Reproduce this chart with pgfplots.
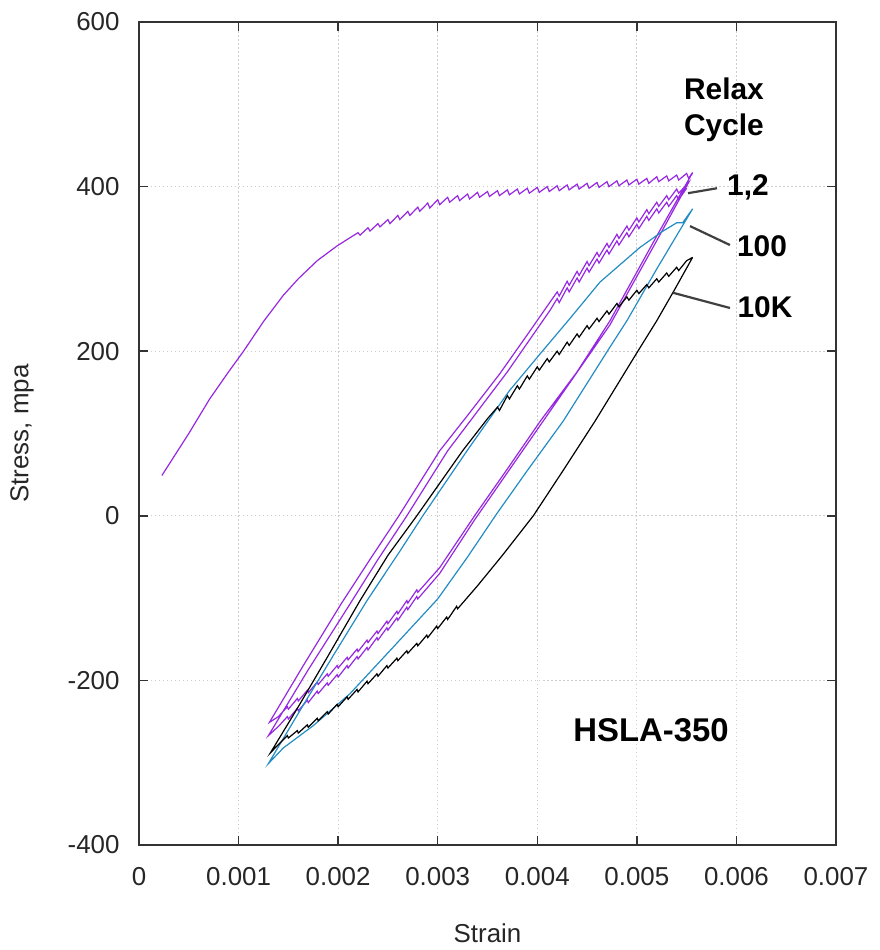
\documentclass[border=0pt]{standalone}
\usepackage{fontspec}
\setmainfont{Liberation Sans}
\usepackage{pgfplots}
\pgfplotsset{compat=1.18}
\definecolor{purpleline}{RGB}{150,40,225}
\definecolor{blueline}{RGB}{35,140,195}
\begin{document}
\begin{tikzpicture}
\begin{axis}[
    at={(0,0)}, anchor=south west,
    scale only axis, width=697bp, height=823bp,
    xmin=0, xmax=0.007, ymin=-400, ymax=600,
    scaled x ticks=false,
    xtick={0,0.001,0.002,0.003,0.004,0.005,0.006,0.007},
    xticklabels={0,0.001,0.002,0.003,0.004,0.005,0.006,0.007},
    ytick={-400,-200,0,200,400,600},
    yticklabels={-400,-200,0,200,400,600},
    tick align=inside, tick pos=both,
    major tick length=9bp,
    every tick/.style={black!80, line width=1.5bp},
    axis line style={black!80, line width=1.5bp},
    grid=major,
    grid style={gray!40, line width=1bp, dash pattern=on 1.5bp off 2.5bp},
    tick label style={font=\fontsize{26}{30}\selectfont, black!85},
    xticklabel style={yshift=-19bp},
    yticklabel style={xshift=-16bp},
    xlabel={Strain}, ylabel={Stress, mpa},
    every axis x label/.style={at={(rel axis cs:0.5,0)}, yshift=-88bp, anchor=center, font=\fontsize{26}{30}\selectfont, black!85},
    every axis y label/.style={at={(rel axis cs:0,0.5)}, xshift=-117bp, rotate=90, anchor=center, font=\fontsize{26}{30}\selectfont, black!85},
    no markers,
]
% first loading with relaxation teeth
\addplot[purpleline, line width=1.2bp] coordinates {
(0.00023,49) (0.00050,100) (0.00071,142) (0.00090,175) (0.00105,200) (0.00125,236)
(0.00145,268) (0.00160,288) (0.00179,310) (0.00199,328) (0.00212,338)
(0.0022,344) (0.00222,341) (0.0023,350) (0.00232,346) (0.0024,355) (0.00242,351)
(0.0025,360) (0.00252,355) (0.0026,365) (0.00262,360) (0.0027,370) (0.00272,365)
(0.0028,375) (0.00282,370) (0.0029,380) (0.00292,374) (0.0030,384) (0.00302,378)
(0.0031,387) (0.00312,381) (0.0032,389) (0.00322,383) (0.0033,391) (0.00332,385)
(0.0034,393) (0.00342,387) (0.0035,394) (0.00352,388) (0.0036,395) (0.00362,389)
(0.0037,396) (0.00372,390) (0.0038,397) (0.00382,391) (0.0039,398) (0.00392,392)
(0.0040,399) (0.00402,393) (0.0041,400) (0.00412,394) (0.0042,401) (0.00422,395)
(0.0043,402) (0.00432,396) (0.0044,403) (0.00442,397) (0.0045,404) (0.00452,398)
(0.0046,405) (0.00462,399) (0.0047,406) (0.00472,400) (0.0048,407) (0.00482,401)
(0.0049,408) (0.00492,402) (0.0050,409) (0.00502,403) (0.0051,410) (0.00512,404)
(0.0052,412) (0.00522,406) (0.0053,413) (0.00532,407) (0.0054,414) (0.00542,408)
(0.0055,416) (0.00552,410) (0.00556,417)
};
% cycles 1,2
\addplot[purpleline, line width=1.2bp] coordinates {
(0.00556,417) (0.00520,340) (0.00473,237) (0.00440,175) (0.00403,115) (0.00370,57)
(0.00337,0) (0.00302,-63) (0.00280,-93)
(0.00279,-90) (0.0027,-106) (0.00269,-103) (0.0026,-119) (0.00259,-116) (0.0025,-131)
(0.00249,-128) (0.0024,-143) (0.00239,-140) (0.0023,-154) (0.00229,-151) (0.0022,-165)
(0.00219,-162) (0.0021,-175) (0.00209,-172) (0.0020,-185) (0.00199,-182) (0.0019,-195)
(0.00189,-192) (0.0018,-205) (0.00179,-202) (0.0017,-215) (0.00169,-212) (0.0016,-225)
(0.00159,-222) (0.0015,-235) (0.00149,-232) (0.0014,-244) (0.00131,-251)
(0.00165,-182) (0.00203,-107) (0.00232,-53) (0.00261,0) (0.00302,79) (0.00330,122)
(0.00362,172) (0.00390,220) (0.00413,260)
(0.0042,272) (0.00422,267) (0.0043,285) (0.00432,280) (0.0044,297) (0.00442,292)
(0.0045,309) (0.00452,304) (0.0046,320) (0.00462,315) (0.0047,331) (0.00472,326)
(0.0048,342) (0.00482,337) (0.0049,352) (0.00492,347) (0.0050,362) (0.00502,357)
(0.0051,372) (0.00512,367) (0.0052,381) (0.00522,376) (0.0053,389) (0.00532,384)
(0.0054,397) (0.00542,392) (0.00552,405)
(0.00518,330) (0.00473,232) (0.00403,110) (0.00337,-5) (0.00302,-70) (0.0028,-101)
(0.00279,-98) (0.0027,-114) (0.00269,-111) (0.0026,-127) (0.00259,-124) (0.0025,-139)
(0.00249,-136) (0.0024,-151) (0.00239,-148) (0.0023,-163) (0.00229,-160) (0.0022,-174)
(0.00219,-171) (0.0021,-185) (0.00209,-182) (0.0020,-196) (0.00199,-193) (0.0019,-206)
(0.00189,-203) (0.0018,-216) (0.00179,-213) (0.0017,-227) (0.00169,-224) (0.0016,-237)
(0.00159,-234) (0.0015,-247) (0.00149,-244) (0.0014,-256) (0.0013,-267)
(0.00170,-187) (0.00212,-107) (0.00240,-53) (0.00269,0) (0.00310,79) (0.00370,175)
(0.00413,250)
(0.0042,264) (0.00422,259) (0.0043,277) (0.00432,272) (0.0044,289) (0.00442,284)
(0.0045,301) (0.00452,296) (0.0046,312) (0.00462,307) (0.0047,323) (0.00472,318)
(0.0048,334) (0.00482,329) (0.0049,344) (0.00492,339) (0.0050,354) (0.00502,349)
(0.0051,364) (0.00512,359) (0.0052,373) (0.00522,368) (0.0053,381) (0.00532,376)
(0.0054,389) (0.00542,384) (0.00550,398)
};
% cycle 100
\addplot[blueline, line width=1.2bp] coordinates {
(0.00556,373) (0.00520,300) (0.00490,237) (0.00473,205) (0.00426,115) (0.00390,55)
(0.00359,2) (0.00330,-50) (0.00300,-101) (0.00255,-160) (0.00212,-216) (0.00175,-255)
(0.00145,-282) (0.00130,-301)
(0.00160,-240) (0.00195,-170) (0.00229,-103) (0.00262,-43) (0.00285,0) (0.00330,80)
(0.00372,152) (0.00403,197) (0.00433,240) (0.00463,284) (0.00503,326) (0.00525,345)
(0.00540,356) (0.00546,356) (0.00556,373)
};
% cycle 10K
\addplot[black, line width=1.2bp] coordinates {
(0.00556,314) (0.00538,275) (0.00520,237) (0.00501,200) (0.00458,115) (0.00427,57)
(0.00396,0) (0.00365,-48) (0.00340,-85) (0.0032,-113)
(0.00319,-110) (0.0031,-126) (0.00309,-123) (0.0030,-137) (0.00299,-134) (0.0029,-148)
(0.00289,-145) (0.0028,-158) (0.00279,-155) (0.0027,-167) (0.00269,-164) (0.0026,-176)
(0.00259,-173) (0.0025,-185) (0.00249,-182) (0.0024,-195) (0.00239,-192) (0.0023,-204)
(0.00229,-201) (0.0022,-214) (0.00219,-211) (0.0021,-223) (0.00209,-220) (0.0020,-232)
(0.00199,-229) (0.0019,-241) (0.00189,-238) (0.0018,-249) (0.00179,-246) (0.0017,-257)
(0.00169,-254) (0.0016,-264) (0.00159,-261) (0.0015,-270) (0.00149,-267) (0.0014,-278)
(0.00132,-288)
(0.00160,-232) (0.00190,-170) (0.00222,-103) (0.00250,-48) (0.00279,0) (0.00325,79)
(0.0035,118) (0.0036,132)
(0.00362,128) (0.0037,146) (0.00372,142) (0.0038,158) (0.00382,154) (0.0039,170)
(0.00392,166) (0.0040,181) (0.00402,177) (0.0041,191) (0.00412,187) (0.0042,200)
(0.00422,196) (0.0043,211) (0.00432,207) (0.0044,221) (0.00442,217) (0.0045,231)
(0.00452,227) (0.0046,240) (0.00462,236) (0.0047,249) (0.00472,245) (0.0048,258)
(0.00482,254) (0.0049,266) (0.00492,262) (0.0050,274) (0.00502,270) (0.0051,281)
(0.00512,277) (0.0052,288) (0.00522,284) (0.0053,295) (0.00532,291) (0.0054,302)
(0.00542,298) (0.0055,310) (0.00556,314)
};
% labels
\node[font=\fontsize{30}{36}\selectfont\bfseries, align=center] at (axis cs:0.005875,493) {Relax\\Cycle};
\node[font=\fontsize{30}{36}\selectfont\bfseries] at (axis cs:0.006116,399) {1,2};
\node[font=\fontsize{30}{36}\selectfont\bfseries] at (axis cs:0.006257,328) {100};
\node[font=\fontsize{30}{36}\selectfont\bfseries] at (axis cs:0.006287,254) {10K};
\node[font=\fontsize{33}{38}\selectfont\bfseries] at (axis cs:0.005142,-260) {HSLA-350};
\draw[black!75, line width=2.2bp] (axis cs:0.005514,392) -- (axis cs:0.005805,398);
\draw[black!75, line width=2.2bp] (axis cs:0.005534,352) -- (axis cs:0.005935,329);
\draw[black!75, line width=2.2bp] (axis cs:0.005363,271) -- (axis cs:0.005935,252.5);
\end{axis}
\pgfresetboundingbox
\path (-139bp,-105bp) rectangle (741bp,845bp);
\end{tikzpicture}
\end{document}
